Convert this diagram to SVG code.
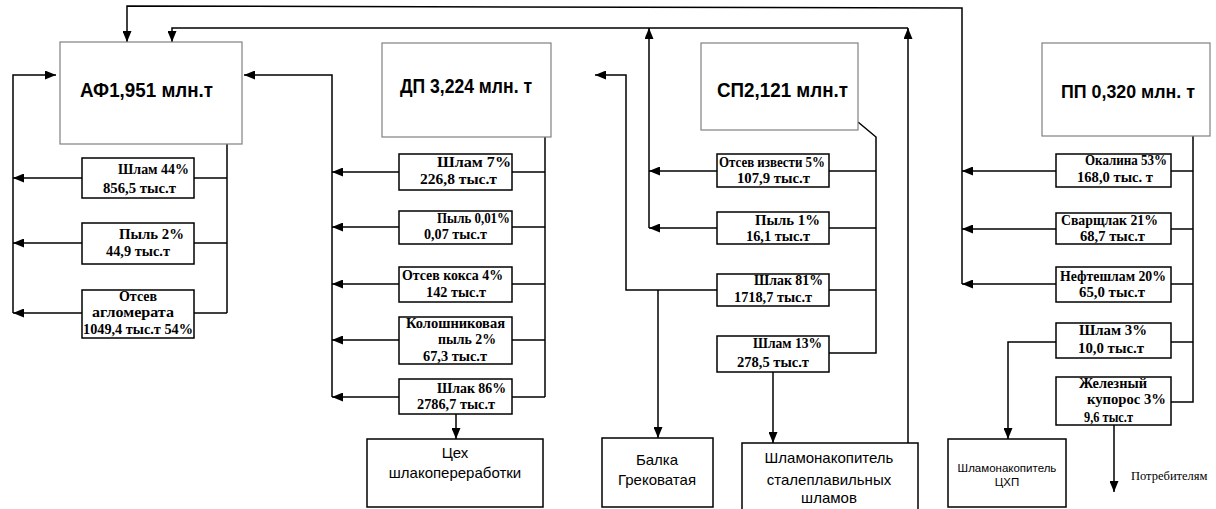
<svg xmlns="http://www.w3.org/2000/svg" width="1216" height="509" viewBox="0 0 1216 509">
<style>
.mb{fill:#fff;stroke:#808080;stroke-width:1.2}
.sb{fill:#fff;stroke:#000;stroke-width:1.5}
.c{fill:none;stroke:#000;stroke-width:1.5}
.a{marker-end:url(#ah)}
.mt{font-family:"Liberation Sans",Arial,sans-serif;font-weight:bold;font-size:20px;fill:#000}
.st{font-family:"Liberation Serif","Times New Roman",serif;font-weight:bold;font-size:14px;fill:#000}
.bt{font-family:"Liberation Sans",Arial,sans-serif;font-size:15px;text-anchor:middle;fill:#000}
.sm{font-family:"Liberation Sans",Arial,sans-serif;font-size:11.5px;text-anchor:middle;fill:#000}
.pt{font-family:"Liberation Serif","Times New Roman",serif;font-size:12.5px;fill:#000}
</style>
<defs>
<marker id="ah" markerWidth="11" markerHeight="9" refX="11" refY="4.5" orient="auto" markerUnits="userSpaceOnUse">
<path d="M0,0 L11,4.5 L0,9 z" fill="#000"/>
</marker>
</defs>
<rect width="1216" height="509" fill="#fff"/>
<g id="connectors">
<polyline class="c a" points="962,284 962,8 127,6 127,42"/>
<line class="c a" x1="1056" y1="171" x2="962" y2="171"/>
<line class="c a" x1="1056" y1="229" x2="962" y2="229"/>
<line class="c a" x1="1056" y1="284" x2="962" y2="284"/>
<polyline class="c" points="1193,136 1193,402 1171,402"/>
<line class="c" x1="1171" y1="171" x2="1193" y2="171"/>
<line class="c" x1="1171" y1="229" x2="1193" y2="229"/>
<line class="c" x1="1171" y1="284" x2="1193" y2="284"/>
<line class="c" x1="1171" y1="342" x2="1193" y2="342"/>
<polyline class="c a" points="1056,342 1008,342 1008,439"/>
<line class="c a" x1="1114" y1="425" x2="1114" y2="492"/>
<line class="c a" x1="908" y1="443" x2="908" y2="28"/>
<polyline class="c a" points="908,28 172,28 172,42"/>
<line class="c a" x1="649" y1="228" x2="649" y2="28"/>
<line class="c a" x1="717" y1="171" x2="649" y2="171"/>
<line class="c a" x1="717" y1="228" x2="649" y2="228"/>
<polyline class="c" points="858,122 876,137 876,353 829,353"/>
<line class="c" x1="829" y1="171" x2="876" y2="171"/>
<line class="c" x1="829" y1="228" x2="876" y2="228"/>
<line class="c" x1="829" y1="290" x2="876" y2="290"/>
<polyline class="c a" points="717,290 626,290 626,75 595,75"/>
<line class="c a" x1="658" y1="290" x2="658" y2="438"/>
<line class="c a" x1="773" y1="372" x2="773" y2="443"/>
<polyline class="c" points="545,137 545,397"/>
<line class="c" x1="512" y1="172" x2="545" y2="172"/>
<line class="c" x1="512" y1="227" x2="545" y2="227"/>
<line class="c" x1="512" y1="284" x2="545" y2="284"/>
<line class="c" x1="512" y1="340" x2="545" y2="340"/>
<line class="c" x1="512" y1="397" x2="545" y2="397"/>
<polyline class="c a" points="332,397 332,75 244,75"/>
<line class="c a" x1="399" y1="172" x2="332" y2="172"/>
<line class="c a" x1="399" y1="227" x2="332" y2="227"/>
<line class="c a" x1="399" y1="284" x2="332" y2="284"/>
<line class="c a" x1="399" y1="340" x2="332" y2="340"/>
<line class="c a" x1="399" y1="397" x2="332" y2="397"/>
<line class="c a" x1="456" y1="414" x2="456" y2="439"/>
<polyline class="c" points="227,144 227,313"/>
<line class="c" x1="194" y1="178" x2="227" y2="178"/>
<line class="c" x1="194" y1="243" x2="227" y2="243"/>
<line class="c" x1="194" y1="313" x2="227" y2="313"/>
<polyline class="c a" points="13,313 13,75 56,75"/>
<line class="c a" x1="82" y1="178" x2="13" y2="178"/>
<line class="c a" x1="82" y1="243" x2="13" y2="243"/>
<line class="c a" x1="82" y1="313" x2="13" y2="313"/>
</g>
<g id="af">
<rect class="mb" x="60" y="42" width="182" height="102"/>
<text class="mt" x="80" y="97" textLength="133" lengthAdjust="spacingAndGlyphs">АФ1,951 млн.т</text>
</g>
<g id="af-shlam">
<rect class="sb" x="82" y="158" width="112" height="40"/>
<text class="st" x="118" y="174" textLength="71" lengthAdjust="spacingAndGlyphs">Шлам 44%</text>
<text class="st" x="103" y="193" textLength="73" lengthAdjust="spacingAndGlyphs">856,5 тыс.т</text>
</g>
<g id="af-pyl">
<rect class="sb" x="82" y="223" width="112" height="41"/>
<text class="st" x="119" y="239" textLength="65" lengthAdjust="spacingAndGlyphs">Пыль 2%</text>
<text class="st" x="106" y="256" textLength="64" lengthAdjust="spacingAndGlyphs">44,9 тыс.т</text>
</g>
<g id="af-otsev">
<rect class="sb" x="82" y="290" width="112" height="48"/>
<text class="st" x="119" y="301" textLength="38" lengthAdjust="spacingAndGlyphs">Отсев</text>
<text class="st" x="92" y="317" textLength="82" lengthAdjust="spacingAndGlyphs">агломерата</text>
<text class="st" x="83" y="334" textLength="110" lengthAdjust="spacingAndGlyphs">1049,4 тыс.т 54%</text>
</g>
<g id="dp">
<rect class="mb" x="382" y="43" width="169" height="94"/>
<text class="mt" x="400" y="93" textLength="132" lengthAdjust="spacingAndGlyphs">ДП 3,224 млн. т</text>
</g>
<g id="dp-shlam">
<rect class="sb" x="399" y="154" width="113" height="36"/>
<text class="st" x="437" y="167" textLength="74" lengthAdjust="spacingAndGlyphs">Шлам 7%</text>
<text class="st" x="420" y="184" textLength="77" lengthAdjust="spacingAndGlyphs">226,8 тыс.т</text>
</g>
<g id="dp-pyl">
<rect class="sb" x="399" y="211" width="113" height="33"/>
<text class="st" x="437" y="223" textLength="73" lengthAdjust="spacingAndGlyphs">Пыль 0,01%</text>
<text class="st" x="424" y="239" textLength="63" lengthAdjust="spacingAndGlyphs">0,07 тыс.т</text>
</g>
<g id="dp-koks">
<rect class="sb" x="399" y="267" width="113" height="35"/>
<text class="st" x="402" y="280" textLength="101" lengthAdjust="spacingAndGlyphs">Отсев кокса 4%</text>
<text class="st" x="426" y="297" textLength="60" lengthAdjust="spacingAndGlyphs">142 тыс.т</text>
</g>
<g id="dp-kolosh">
<rect class="sb" x="399" y="317" width="113" height="47"/>
<text class="st" x="406" y="328" textLength="99" lengthAdjust="spacingAndGlyphs">Колошниковая</text>
<text class="st" x="438" y="344" textLength="58" lengthAdjust="spacingAndGlyphs">пыль 2%</text>
<text class="st" x="423" y="361" textLength="64" lengthAdjust="spacingAndGlyphs">67,3 тыс.т</text>
</g>
<g id="dp-shlak">
<rect class="sb" x="399" y="379" width="113" height="35"/>
<text class="st" x="437" y="393" textLength="69" lengthAdjust="spacingAndGlyphs">Шлак 86%</text>
<text class="st" x="417" y="409" textLength="78" lengthAdjust="spacingAndGlyphs">2786,7 тыс.т</text>
</g>
<g id="tsekh">
<rect class="sb" x="367" y="439" width="176" height="68"/>
<text class="bt" x="455" y="458">Цех</text>
<text class="bt" x="455" y="478">шлакопереработки</text>
</g>
<g id="sp">
<rect class="mb" x="701" y="43" width="157" height="87"/>
<text class="mt" x="717" y="97" textLength="131" lengthAdjust="spacingAndGlyphs">СП2,121 млн.т</text>
</g>
<g id="sp-izvest">
<rect class="sb" x="717" y="154" width="112" height="33"/>
<text class="st" x="719" y="167" textLength="106" lengthAdjust="spacingAndGlyphs">Отсев извести 5%</text>
<text class="st" x="737" y="183" textLength="73" lengthAdjust="spacingAndGlyphs">107,9 тыс.т</text>
</g>
<g id="sp-pyl">
<rect class="sb" x="717" y="212" width="112" height="32"/>
<text class="st" x="755" y="225" textLength="65" lengthAdjust="spacingAndGlyphs">Пыль 1%</text>
<text class="st" x="746" y="241" textLength="64" lengthAdjust="spacingAndGlyphs">16,1 тыс.т</text>
</g>
<g id="sp-shlak">
<rect class="sb" x="717" y="274" width="112" height="32"/>
<text class="st" x="754" y="285" textLength="69" lengthAdjust="spacingAndGlyphs">Шлак 81%</text>
<text class="st" x="734" y="302" textLength="78" lengthAdjust="spacingAndGlyphs">1718,7 тыс.т</text>
</g>
<g id="sp-shlam">
<rect class="sb" x="717" y="336" width="112" height="36"/>
<text class="st" x="753" y="348" textLength="69" lengthAdjust="spacingAndGlyphs">Шлам 13%</text>
<text class="st" x="737" y="367" textLength="72" lengthAdjust="spacingAndGlyphs">278,5 тыс.т</text>
</g>
<g id="balka">
<rect class="sb" x="602" y="438" width="111" height="69"/>
<text class="bt" x="657" y="465">Балка</text>
<text class="bt" x="657" y="485">Грековатая</text>
</g>
<g id="shlamonak-sp">
<rect class="sb" x="742" y="443" width="176" height="70"/>
<text class="bt" x="829" y="463">Шламонакопитель</text>
<text class="bt" x="829" y="485">сталеплавильных</text>
<text class="bt" x="829" y="503">шламов</text>
</g>
<g id="pp">
<rect class="mb" x="1042" y="43" width="168" height="93"/>
<text class="mt" x="1061" y="98" style="font-size:19px" textLength="134" lengthAdjust="spacingAndGlyphs">ПП 0,320 млн. т</text>
</g>
<g id="pp-okalina">
<rect class="sb" x="1056" y="154" width="115" height="33"/>
<text class="st" x="1085" y="165" textLength="82" lengthAdjust="spacingAndGlyphs">Окалина 53%</text>
<text class="st" x="1077" y="182" textLength="76" lengthAdjust="spacingAndGlyphs">168,0 тыс. т</text>
</g>
<g id="pp-svarsh">
<rect class="sb" x="1056" y="213" width="115" height="31"/>
<text class="st" x="1061" y="225" textLength="97" lengthAdjust="spacingAndGlyphs">Сварщлак 21%</text>
<text class="st" x="1080" y="241" textLength="65" lengthAdjust="spacingAndGlyphs">68,7 тыс.т</text>
</g>
<g id="pp-neft">
<rect class="sb" x="1056" y="267" width="115" height="35"/>
<text class="st" x="1060" y="281" textLength="106" lengthAdjust="spacingAndGlyphs">Нефтешлам 20%</text>
<text class="st" x="1079" y="297" textLength="66" lengthAdjust="spacingAndGlyphs">65,0 тыс.т</text>
</g>
<g id="pp-shlam">
<rect class="sb" x="1056" y="323" width="115" height="35"/>
<text class="st" x="1079" y="335" textLength="68" lengthAdjust="spacingAndGlyphs">Шлам 3%</text>
<text class="st" x="1078" y="353" textLength="66" lengthAdjust="spacingAndGlyphs">10,0 тыс.т</text>
</g>
<g id="pp-kuporos">
<rect class="sb" x="1056" y="377" width="115" height="48"/>
<text class="st" x="1079" y="388" textLength="68" lengthAdjust="spacingAndGlyphs">Железный</text>
<text class="st" x="1087" y="404" textLength="79" lengthAdjust="spacingAndGlyphs">купорос 3%</text>
<text class="st" x="1084" y="422" textLength="49" lengthAdjust="spacingAndGlyphs">9,6 тыс.т</text>
</g>
<g id="shlamonak-chp">
<rect class="sb" x="948" y="439" width="118" height="68"/>
<text class="sm" x="1007" y="472">Шламонакопитель</text>
<text class="sm" x="1007" y="486">ЦХП</text>
</g>
<g id="potreb">
<text class="pt" x="1131" y="480">Потребителям</text>
</g>
</svg>
